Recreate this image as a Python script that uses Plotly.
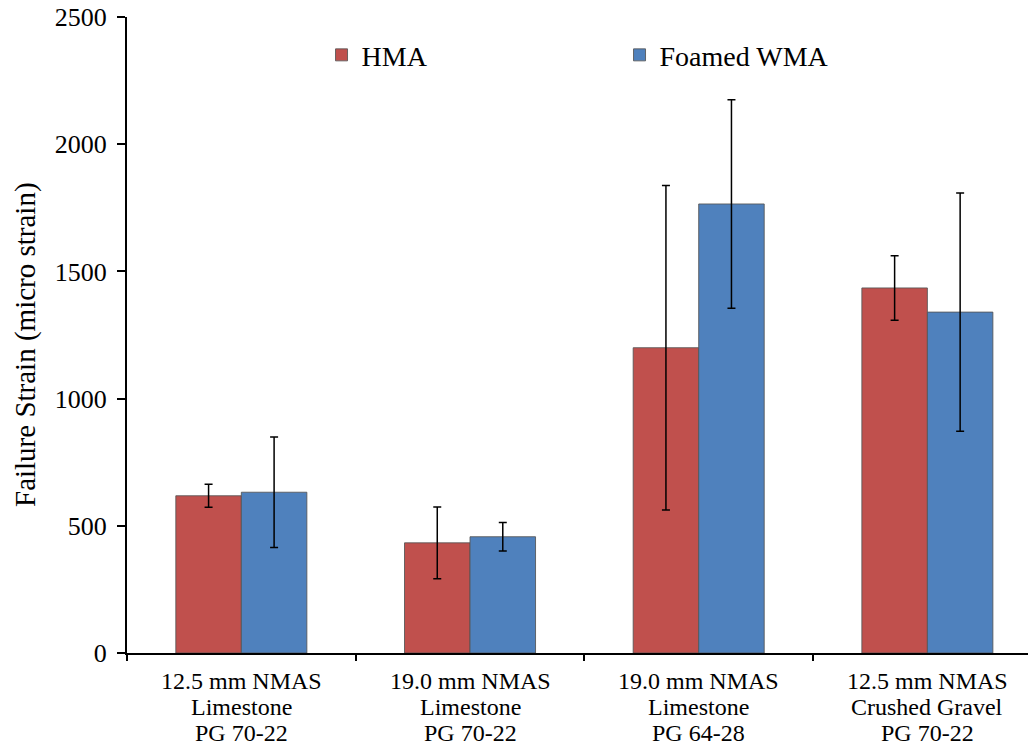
import plotly.graph_objects as go

categories = ["12.5 mm NMAS<br>Limestone<br>PG 70-22",
              "19.0 mm NMAS<br>Limestone<br>PG 70-22",
              "19.0 mm NMAS<br>Limestone<br>PG 64-28",
              "12.5 mm NMAS<br>Crushed Gravel<br>PG 70-22"]
series_names = ["HMA", "Foamed WMA"]
hma_values = [618, 433, 1200, 1435]
hma_errors = [45, 141, 638, 127]
wma_values = [632, 457, 1765, 1340]
wma_errors = [217, 56, 410, 468]
y_ticks = [0, 500, 1000, 1500, 2000, 2500]
y_title = "Failure Strain (micro strain)"

FONT = "Liberation Serif, Times New Roman, serif"
colors = ["#C0504D", "#4F81BD"]

fig = go.Figure()
for name, vals, errs, col in zip(series_names, [hma_values, wma_values],
                                 [hma_errors, wma_errors], colors):
    fig.add_trace(go.Bar(
        x=categories, y=vals, name=name,
        marker=dict(color=col, line=dict(color="rgba(85,85,85,0.85)", width=1)),
        error_y=dict(type="data", array=errs, visible=True,
                     color="black", thickness=1.5, width=4),
    ))

# category labels, one annotation per line for Excel-like tight line spacing
line_shifts = [-28, -54, -80]
for cat in categories:
    for line, ys in zip(cat.split("<br>"), line_shifts):
        fig.add_annotation(x=cat, y=0, xref="x", yref="y", text=line,
                           showarrow=False, yanchor="middle", yshift=ys,
                           font=dict(family=FONT, size=24, color="black"))

fig.add_annotation(x=(25 - 127) / 909, y=(653 - 345) / 636, xref="paper", yref="paper",
                   text=y_title, textangle=-90, showarrow=False,
                   xanchor="center", yanchor="middle",
                   font=dict(family=FONT, size=29, color="black"))

fig.update_layout(
    width=1028, height=745,
    margin=dict(l=119, r=0, t=9, b=100, autoexpand=False),
    paper_bgcolor="white", plot_bgcolor="white",
    barmode="group", bargap=0.427, bargroupgap=0,
    font=dict(family=FONT, size=24, color="black"),
    showlegend=True,
    legend=dict(orientation="h", x=0.214, y=0.94, xanchor="left", yanchor="middle",
                entrywidth=253, entrywidthmode="pixels",
                font=dict(family=FONT, size=28, color="black"),
                bgcolor="rgba(0,0,0,0)"),
    xaxis=dict(type="category", range=[-0.5, 3.475], tickson="boundaries",
               ticks="outside", ticklen=6, tickwidth=2, tickcolor="black",
               showticklabels=False, automargin=False,
               showline=True, linecolor="black", linewidth=2,
               showgrid=False, zeroline=False),
    yaxis=dict(range=[0, 2500], tickvals=y_ticks, automargin=False,
               ticks="outside", ticklen=8, tickwidth=2, tickcolor="black",
               ticklabelstandoff=5, ticklabeloverflow="allow",
               showline=True, linecolor="black", linewidth=2,
               showgrid=False, zeroline=False,
               tickfont=dict(family=FONT, size=26, color="black")),
)

fig.write_html("out.html")
